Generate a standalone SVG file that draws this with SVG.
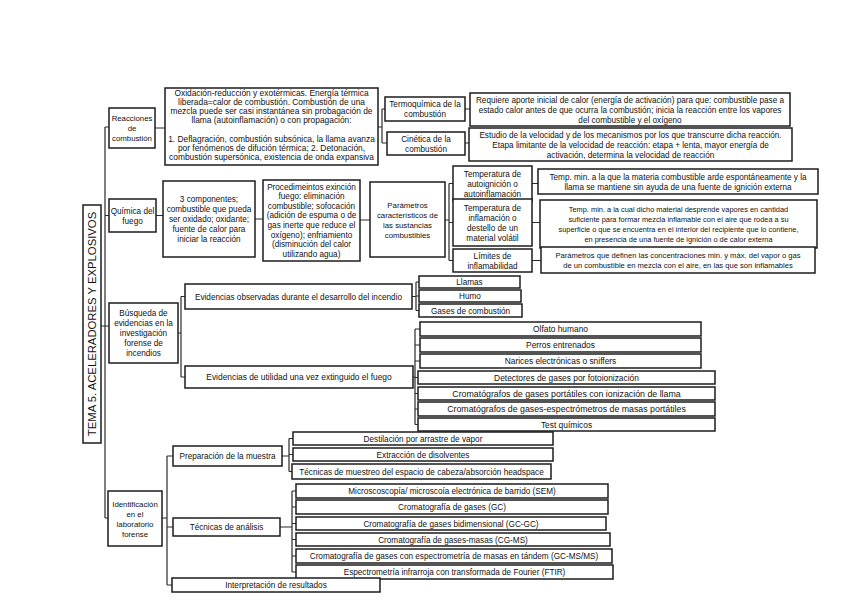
<svg xmlns="http://www.w3.org/2000/svg" width="848" height="599" viewBox="0 0 848 599">
<style>
rect{fill:#fff;stroke:#1c1c1c;stroke-width:1.5}
text{font-family:"Liberation Sans",Arial,sans-serif;font-size:8.2px;fill:#111;text-anchor:middle}
.c path{fill:none;stroke:#2a2a2a;stroke-width:1.2}
g.f74 text{font-size:7.4px}
g.f76 text{font-size:7.6px}
g.f78 text{font-size:7.8px}
g.f84 text{font-size:8.4px}
g.f88 text{font-size:8.8px}
</style>
<rect x="0" y="0" width="848" height="599" style="stroke:none"/>
<g class="c" id="connectors">
<path d="M105 127V518M105 127H109M105 215.5H109M101 326H109M105 518H108"/>
<path d="M155 128H165M378 127H382M382 109V143M382 109H385M382 143H387M465 109H470M465 143H469"/>
<path d="M156 215.5H163M255 219H263M360 220H370M445 220H449M449 183.5V260.5M449 183.5H453M449 222.5H453M449 260.5H453M532 183.5H538M532 222.5H540M532 260.5H541"/>
<path d="M178 333H181M181 296.5V377M181 296.5H185M181 377H185M412 296.5H416M416 282V310.5M416 282H419M416 296H419M416 310.5H419"/>
<path d="M413 377H415M415 329V424.5M415 329H420M415 345H420M415 361H420M415 377.5H418M415 393.5H418M415 409H418M415 424.5H418"/>
<path d="M162 518H167M167 456V585M167 456H173M167 527H173M167 585H172M282 456H289M289 438.5V471.5M289 438.5H293M289 454.5H293M289 471.5H292"/>
<path d="M280 527H292M292 491V572M292 491H296M292 507H296M292 523.5H296M292 539.5H296M292 556H296M292 572H296"/>
</g>
<g id="title"><rect x="83" y="205" width="18" height="238"/><text transform="translate(96,324) rotate(-90)" style="font-size:11.3px">TEMA 5. ACELERADORES Y EXPLOSIVOS</text></g>
<g id="reacciones" class="f78"><rect x="109" y="108" width="46" height="40"/><text x="132" y="120.5">Reacciones</text><text x="132" y="130.5">de</text><text x="132" y="140.5">combustión</text></g>
<g id="reacciones_desc" class="f84"><rect x="165" y="88" width="213" height="77"/>
<text x="271.5" y="96">Oxidación-reducción y exotérmicas. Energía térmica</text>
<text x="271.5" y="105">liberada=calor de combustión. Combustión de una</text>
<text x="271.5" y="114">mezcla puede ser casi instantánea sin probagación de</text>
<text x="271.5" y="123">llama (autoinflamación) o con propagación:</text>
<text x="271.5" y="141.5">1. Deflagración, combustión subsónica, la llama avanza</text>
<text x="271.5" y="150.5">por fenómenos de difución térmica; 2. Detonación,</text>
<text x="271.5" y="159.5">combustión supersónica, existencia de onda expansiva</text></g>
<g id="termoquimica"><rect x="385" y="97" width="80" height="24"/><text x="425" y="107">Termoquímica de la</text><text x="425" y="117">combustión</text></g>
<g id="termoquimica_desc"><rect x="470" y="93" width="320" height="33"/>
<text x="630" y="102.5">Requiere aporte inicial de calor (energía de activación) para que: combustible pase a</text>
<text x="630" y="112.5">estado calor antes de que ocurra la combustión; inicia la reacción entre los vapores</text>
<text x="630" y="122.5">del combustible y el oxígeno</text></g>
<g id="cinetica"><rect x="387" y="132" width="78" height="23"/><text x="426" y="141.5">Cinética de la</text><text x="426" y="151.5">combustión</text></g>
<g id="cinetica_desc"><rect x="469" y="128" width="323" height="33"/>
<text x="630.5" y="137.5">Estudio de la velocidad y de los mecanismos por los que transcurre dicha reacción.</text>
<text x="630.5" y="147.5">Etapa limitante de la velocidad de reacción: etapa + lenta, mayor energía de</text>
<text x="630.5" y="157.5">activación, determina la velocidad de reacción</text></g>
<g id="quimica"><rect x="109" y="199" width="47" height="33"/><text x="132.5" y="213.5">Química del</text><text x="132.5" y="223.5">fuego</text></g>
<g id="componentes"><rect x="163" y="181" width="92" height="76"/>
<text x="209" y="202">3 componentes;</text><text x="209" y="212">combustible que pueda</text><text x="209" y="222">ser oxidado; oxidante;</text><text x="209" y="232">fuente de calor para</text><text x="209" y="242">iniciar la reacción</text></g>
<g id="procedimientos"><rect x="263" y="180" width="97" height="81"/>
<text x="311.5" y="189.6">Procedimeintos exinción</text><text x="311.5" y="199.2">fuego: eliminación</text><text x="311.5" y="208.8">combustible; sofocación</text><text x="311.5" y="218.4">(adición de espuma o de</text><text x="311.5" y="228">gas inerte que reduce el</text><text x="311.5" y="237.6">oxígeno); enfriamiento</text><text x="311.5" y="247.2">(disminución del calor</text><text x="311.5" y="256.8">utilizando agua)</text></g>
<g id="parametros" class="f78"><rect x="370" y="182" width="75" height="75"/>
<text x="407.5" y="207.5">Parámetros</text><text x="407.5" y="217.5">característicos de</text><text x="407.5" y="227.5">las sustancias</text><text x="407.5" y="237.5">combustibles</text></g>
<g id="autoignicion"><rect x="453" y="166" width="79" height="35"/><text x="492.5" y="176.5">Temperatura de</text><text x="492.5" y="186.5">autoignición o</text><text x="492.5" y="196.5">autoinflamación</text></g>
<g id="autoignicion_desc"><rect x="538" y="169" width="280" height="25"/>
<text x="678" y="179.5">Temp. min. a la que la materia combustible arde espontáneamente y la</text>
<text x="678" y="189.5">llama se mantiene sin ayuda de una fuente de ignición externa</text></g>
<g id="inflamacion"><rect x="453" y="199" width="79" height="47"/><text x="492.5" y="210.5">Temperatura de</text><text x="492.5" y="220.5">inflamación o</text><text x="492.5" y="230.5">destello de un</text><text x="492.5" y="240.5">material volátil</text></g>
<g id="inflamacion_desc" class="f74"><rect x="540" y="200" width="277" height="48"/>
<text x="678.5" y="211.5">Temp. min. a la cual dicho material desprende vapores en cantidad</text>
<text x="678.5" y="221.5">suficiente para formar mezcla inflamable con el aire que rodea a su</text>
<text x="678.5" y="231.5">superficie o que se encuentra en el interior del recipiente que lo contiene,</text>
<text x="678.5" y="241.5">en presencia de una fuente de ignición o de calor externa</text></g>
<g id="limites"><rect x="453" y="249" width="79" height="23"/><text x="492.5" y="258.5">Límites de</text><text x="492.5" y="268.5">inflamabilidad</text></g>
<g id="limites_desc" class="f76"><rect x="541" y="247" width="274" height="26"/>
<text x="678" y="257.5">Parámetros que definen las concentraciones min. y máx. del vapor o gas</text>
<text x="678" y="267.5">de un combustible en mezcla con el aire, en las que son inflamables</text></g>
<g id="busqueda"><rect x="109" y="303" width="69" height="60"/>
<text x="143.5" y="316">Búsqueda de</text><text x="143.5" y="326">evidencias en la</text><text x="143.5" y="336">investigación</text><text x="143.5" y="346">forense de</text><text x="143.5" y="356">incendios</text></g>
<g id="ev_observadas"><rect x="185" y="284" width="227" height="25"/><text x="298.5" y="299.5">Evidencias observadas durante el desarrollo del incendio</text></g>
<g id="llamas"><rect x="419" y="276" width="101" height="12"/><text x="469.5" y="285">Llamas</text></g>
<g id="humo"><rect x="419" y="290" width="102" height="12"/><text x="470" y="299">Humo</text></g>
<g id="gases"><rect x="419" y="304" width="103" height="13"/><text x="470.5" y="313.5">Gases de combustión</text></g>
<g id="ev_utilidad" class="f84"><rect x="185" y="366" width="228" height="22"/><text x="299" y="380">Evidencias de utilidad una vez extinguido el fuego</text></g>
<g id="olfato" class="f84"><rect x="420" y="322" width="281" height="14"/><text x="560.5" y="332">Olfato humano</text></g>
<g id="perros" class="f84"><rect x="420" y="338" width="281" height="14"/><text x="560.5" y="348">Perros entrenados</text></g>
<g id="narices" class="f84"><rect x="420" y="354" width="281" height="14"/><text x="560.5" y="364">Narices electrónicas o sniffers</text></g>
<g id="detectores" class="f84"><rect x="418" y="371" width="297" height="13"/><text x="566.5" y="380.5">Detectores de gases por fotoionización</text></g>
<g id="crom_portatiles" class="f88"><rect x="418" y="387" width="297" height="13"/><text x="566.5" y="396.8">Cromatógrafos de gases portátiles con ionización de llama</text></g>
<g id="crom_masas" class="f88"><rect x="418" y="402" width="297" height="14"/><text x="566.5" y="412.3">Cromatógrafos de gases-espectrómetros de masas portátiles</text></g>
<g id="test" class="f84"><rect x="418" y="418" width="297" height="13"/><text x="566.5" y="427.5">Test químicos</text></g>
<g id="identificacion" class="f78"><rect x="108" y="491" width="54" height="55"/>
<text x="135" y="506.5">Identificación</text><text x="135" y="516.5">en el</text><text x="135" y="526.5">laboratorio</text><text x="135" y="536.5">forense</text></g>
<g id="preparacion"><rect x="173" y="446" width="109" height="20"/><text x="227.5" y="459">Preparación de la muestra</text></g>
<g id="destilacion"><rect x="293" y="432" width="260" height="13"/><text x="423" y="441.5">Destilación por arrastre de vapor</text></g>
<g id="extraccion"><rect x="293" y="448" width="260" height="13"/><text x="423" y="457.5">Extracción de disolventes</text></g>
<g id="headspace"><rect x="292" y="464" width="259" height="15"/><text x="421.5" y="474.5">Técnicas de muestreo del espacio de cabeza/absorción headspace</text></g>
<g id="tecnicas"><rect x="173" y="518" width="107" height="18"/><text x="226.5" y="530">Técnicas de análisis</text></g>
<g id="sem"><rect x="296" y="484" width="312" height="14"/><text x="452" y="494">Microscoscopía/ microscoía electrónica de barrido (SEM)</text></g>
<g id="gc"><rect x="296" y="500" width="312" height="14"/><text x="452" y="510">Cromatografía de gases (GC)</text></g>
<g id="gcgc"><rect x="296" y="517" width="310" height="13"/><text x="451" y="526.5">Cromatografía de gases bidimensional (GC-GC)</text></g>
<g id="cgms"><rect x="296" y="533" width="314" height="13"/><text x="453" y="542.5">Cromatografía de gases-masas (CG-MS)</text></g>
<g id="gcmsms"><rect x="296" y="549" width="316" height="14"/><text x="454" y="559">Cromatografía de gases con espectrometría de masas en tándem (GC-MS/MS)</text></g>
<g id="ftir"><rect x="296" y="565" width="317" height="14"/><text x="454.5" y="575">Espectrometría infrarroja con transformada de Fourier (FTIR)</text></g>
<g id="interpretacion"><rect x="172" y="578" width="208" height="14"/><text x="276" y="588">Interpretación de resultados</text></g>
</svg>
